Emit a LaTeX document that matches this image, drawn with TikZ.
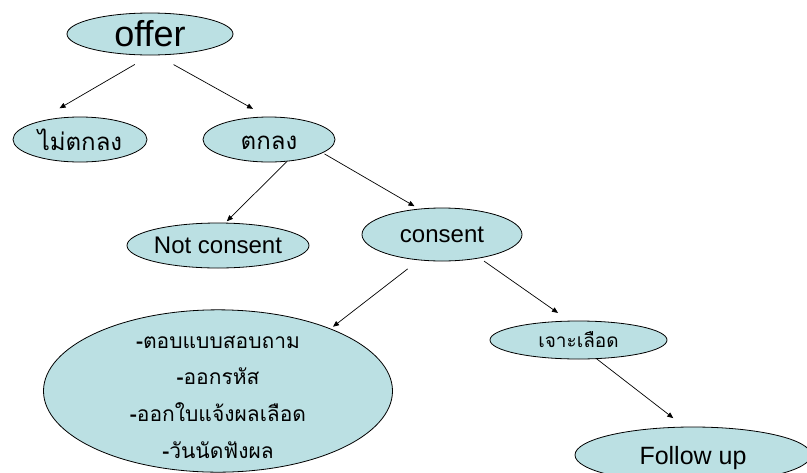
\documentclass[tikz,border=0pt]{standalone}
\usepackage{fontspec}
\setmainfont{Liberation Sans}
\newfontfamily\thaifont[Script=Thai]{Loma}
\usetikzlibrary{shapes.geometric,arrows.meta}

\definecolor{bubblefill}{RGB}{187,224,227}
\tikzset{
  bubble/.style={ellipse, draw, fill=bubblefill, line width=0.8pt, inner sep=0pt, align=center},
  eng/.style={font=\fontsize{24}{28}\selectfont},
  thai/.style={font=\thaifont\fontsize{24}{28}\selectfont},
  arr/.style={-{Triangle[length=6pt,width=5pt]}, line width=0.7pt}
}

\begin{document}
\begin{tikzpicture}[x=1pt,y=-1pt]
\useasboundingbox (0,0) rectangle (807,472);
\clip (0,0) rectangle (807,472);

\node[bubble, minimum width=166, minimum height=42, font=\fontsize{36}{40}\selectfont] (offer) at (150,34) {offer};
\node[bubble, thai, minimum width=134, minimum height=45] (nottk) at (80,139.5) {ไม่ตกลง};
\node[bubble, thai, minimum width=132, minimum height=45] (tk) at (269,139.5) {\raisebox{-3pt}[\height][\depth]{ตกลง}};
\node[bubble, eng, minimum width=182, minimum height=45] (notc) at (218,245.5) {Not consent};
\node[bubble, eng, minimum width=160, minimum height=53] (consent) at (442,234.5) {consent};
\node[bubble, inner ysep=-16pt, minimum width=349, minimum height=162, font=\thaifont\fontsize{21}{36.7}\selectfont] (tasks) at (218,391)
  {\raisebox{-5pt}[\height][\depth]{\begin{tabular}{@{}c@{}}
   \textbf{-}ตอบแบบสอบถาม\\ \textbf{-}ออกรหัส\\ \textbf{-}ออกใบแจ้งผลเลือด\\ \textbf{-}วันนัดฟังผล
   \end{tabular}}};
\node[bubble, minimum width=177, minimum height=38, font=\thaifont\fontsize{19}{22}\selectfont] (blood) at (578.5,340) {เจาะเลือด};
\node[bubble, minimum width=236, minimum height=56, font=\fontsize{25}{29}\selectfont] (follow) at (693,455) {\raisebox{-3pt}[\height][\depth]{Follow up}};

% arrows
\draw[arr, shorten <=18pt, shorten >=28pt] (offer.271) -- (nottk.159);
\draw[arr, shorten <=19pt, shorten >=16pt] (offer.288) -- (tk.95);
\draw[arr, shorten >=2pt] (tk.309) -- (notc.72);
\draw[arr, shorten <=2pt, shorten >=5pt] (tk.346) -- (consent.132);
\draw[arr, shorten <=14pt, shorten >=3pt] (consent.228) -- (tasks.29);
\draw[arr, shorten <=5pt, shorten >=13.5pt] (consent.328) -- (blood.116);
\draw[arr, shorten >=14pt] (blood.314) -- (follow.107);
\end{tikzpicture}
\end{document}
